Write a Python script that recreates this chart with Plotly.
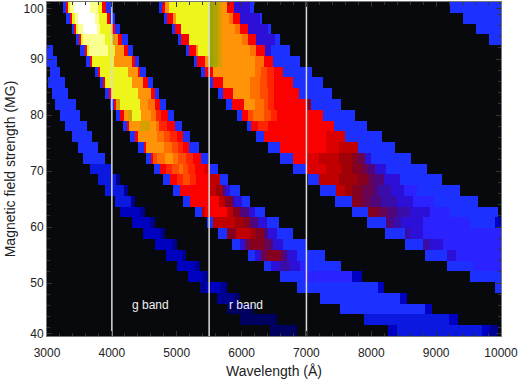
import numpy as np
import plotly.graph_objects as go

# colour levels
k=0; e=8; d=12; D=16; F=20; B=24; V=28; I=32; J=35; P=38; Q=41; M=44; X=46; C=48; E=50; R=52; S=56; N=60; T=64; O=68; U=72; A=76; Y=84; L=92; W=100; G=110; g=115; H=120

wavelength_ticks = [3000,4000,5000,6000,7000,8000,9000,10000]
wavelength_text = ["3000","4000","5000","6000","7000","8000","9000","10000"]
field_tick_text = ["40","50","60","70","80","90","100"]
field_tick_pos = [41,50,60,70,80,90,99]
band_edges = [4000,5500,7000]

# each row: (wavelength where a new level begins, level); top row (100 MG) first
row_100=[(3250,B),(3300,R),(3320,Y),(3350,L),(3420,W),(3660,L),(3790,Y),(3850,R),(3910,B),(3980,k),(4720,B),(4770,R),(4820,O),(4880,Y),(5500,G),(5560,g),(5630,H),(5700,O),(5770,R),(5880,I),(6130,B),(6190,k),(9215,B)]
row_98=[(3300,B),(3355,R),(3380,Y),(3430,L),(3480,W),(3740,L),(3800,Y),(3920,R),(3970,B),(4050,k),(4800,B),(4855,R),(4950,O),(4990,Y),(5500,G),(5560,g),(5630,H),(5700,O),(5800,T),(5870,R),(5980,I),(6280,B),(6310,k),(9410,B)]
row_96=[(3380,B),(3420,R),(3450,Y),(3480,L),(3560,W),(3770,L),(3820,Y),(3995,R),(4050,B),(4130,k),(4920,B),(4975,R),(5060,Y),(5500,G),(5560,g),(5630,H),(5700,O),(5900,T),(5975,R),(6104,I),(6400,B),(6460,k),(9615,B)]
row_94=[(3450,B),(3500,R),(3520,Y),(3560,L),(3890,Y),(3997,H),(4050,O),(4100,R),(4165,B),(4255,k),(5025,B),(5075,R),(5190,Y),(5500,G),(5560,g),(5630,H),(5700,O),(6000,T),(6104,R),(6233,I),(6520,B),(6590,k),(9806,B)]
row_92=[(3000,B),(3090,k),(3510,B),(3590,R),(3610,Y),(3640,L),(3945,Y),(4050,O),(4177,R),(4250,B),(4330,k),(5143,B),(5195,R),(5305,O),(5330,Y),(5500,G),(5560,g),(5630,H),(5700,O),(6130,T),(6233,R),(6361,I),(6450,B),(6740,k)]
row_90=[(3000,B),(3150,k),(3600,B),(3660,R),(3690,Y),(4030,O),(4306,R),(4357,B),(4425,k),(5256,B),(5308,R),(5436,O),(5500,G),(5560,g),(5630,H),(5700,O),(6200,T),(6336,R),(6490,B),(6900,k)]
row_88=[(3050,B),(3200,k),(3740,B),(3790,R),(3817,Y),(4254,O),(4400,R),(4434,B),(4525,k),(5385,B),(5436,R),(5565,O),(6200,T),(6300,N),(6387,S),(6500,R),(6640,B),(7080,k)]
row_86=[(3020,B),(3278,k),(3807,B),(3869,R),(3894,Y),(4306,O),(4485,R),(4547,B),(4630,k),(5523,B),(5565,R),(5708,O),(6130,T),(6284,N),(6387,S),(6500,R),(6788,B),(7260,k)]
row_84=[(3072,B),(3329,k),(3894,B),(3960,R),(3997,Y),(4410,O),(4610,R),(4660,B),(4730,k),(5642,B),(5720,R),(5873,O),(6130,T),(6284,N),(6400,S),(6500,R),(6880,B),(7390,k)]
row_82=[(3123,B),(3447,k),(3971,B),(4040,R),(4070,H),(4126,Y),(4430,O),(4560,T),(4660,R),(4740,B),(4840,k),(5760,B),(5850,R),(6027,O),(6200,T),(6336,N),(6400,S),(6500,R),(7010,M),(7070,B),(7544,k)]
row_80=[(3200,B),(3509,k),(4074,B),(4126,R),(4177,O),(4254,H),(4310,Y),(4450,O),(4600,T),(4680,S),(4760,R),(4860,B),(4960,k),(5928,B),(6010,R),(6100,N),(6180,T),(6336,N),(6450,S),(6550,R),(7261,B),(7750,k)]
row_78=[(3278,B),(3612,k),(4167,B),(4240,R),(4275,O),(4440,H),(4590,O),(4680,T),(4730,S),(4850,R),(4984,B),(5077,k),(6078,B),(6155,R),(6250,S),(6400,R),(7416,B),(7930,k)]
row_76=[(3380,B),(3689,k),(4280,B),(4360,R),(4400,O),(4700,T),(4800,N),(4900,S),(5000,R),(5102,B),(5210,k),(6233,B),(6336,R),(7300,E),(7596,B),(8161,k)]
row_74=[(3483,B),(3792,k),(4408,B),(4490,R),(4530,O),(4800,T),(4925,N),(5020,S),(5100,R),(5190,B),(5345,k),(6413,B),(6590,R),(7300,E),(7500,C),(7800,B),(8366,k)]
row_72=[(3560,B),(3894,k),(4527,B),(4610,R),(4640,N),(4700,T),(4820,O),(4950,T),(5025,N),(5150,S),(5250,R),(5369,B),(5487,k),(6593,B),(6799,R),(7000,E),(7200,C),(7500,X),(7700,M),(7800,Q),(7900,I),(8000,B),(8610,k)]
row_70=[(3663,F),(3997,k),(4650,B),(4742,R),(4845,S),(4920,N),(5030,T),(5100,N),(5180,S),(5280,R),(5420,E),(5520,B),(5645,k),(6799,B),(7000,E),(7300,C),(7550,X),(7700,M),(7850,Q),(7950,P),(8050,I),(8220,B),(8860,k)]
row_68=[(3792,F),(4060,d),(4126,k),(4794,B),(4886,R),(5000,S),(5100,N),(5200,S),(5300,R),(5500,C),(5667,B),(5795,k),(7030,B),(7205,C),(7500,X),(7800,M),(7950,Q),(8030,P),(8200,I),(8443,B),(9086,k)]
row_66=[(3894,F),(4190,d),(4254,k),(4938,B),(5055,R),(5500,C),(5600,X),(5700,Q),(5740,I),(5820,B),(5975,k),(7210,B),(7460,C),(7600,X),(7700,M),(7850,Q),(8030,P),(8100,J),(8300,I),(8500,V),(8700,B),(9369,k)]
row_64=[(4049,F),(4290,d),(4357,k),(5102,B),(5215,R),(5650,C),(5745,M),(5850,P),(5880,I),(6001,B),(6130,k),(7441,B),(7700,M),(7850,Q),(7980,P),(8150,J),(8400,I),(8650,V),(8957,B),(9651,k)]
row_62=[(4126,D),(4440,d),(4511,k),(5282,B),(5390,C),(5430,R),(5780,C),(5873,M),(5980,P),(6120,I),(6207,B),(6361,k),(7698,B),(7950,M),(8100,Q),(8240,P),(8400,J),(8600,I),(8900,V),(9214,B),(9960,k)]
row_60=[(4306,D),(4590,d),(4665,k),(5462,B),(5565,C),(5900,X),(6027,M),(6130,P),(6250,I),(6387,B),(6570,k),(7929,B),(8220,P),(8340,J),(8460,I),(8800,V),(9523,B),(9900,D)]
row_58=[(4485,D),(4740,d),(4820,k),(5642,B),(5770,M),(5925,C),(6150,X),(6233,M),(6336,P),(6400,I),(6540,B),(6798,k),(8212,B),(8520,J),(8600,I),(8800,V)]
row_56=[(4665,D),(4920,d),(4999,k),(5847,B),(5976,I),(6050,Q),(6130,M),(6350,Q),(6438,P),(6490,I),(6644,B),(7005,k),(8520,B),(8803,J),(8900,I),(9100,V)]
row_54=[(4845,D),(5080,d),(5154,k),(6104,B),(6207,I),(6300,Q),(6387,M),(6593,Q),(6640,P),(6700,I),(6850,B),(7280,k),(8829,B),(9163,I),(9300,V)]
row_52=[(5000,D),(5280,d),(5359,k),(6336,B),(6464,I),(6600,J),(6750,I),(6900,V),(7000,B),(7530,k),(9163,B),(9574,V)]
row_50=[(5179,D),(5400,d),(5488,k),(6593,B),(6960,V),(7700,D),(7850,k),(9523,B)]
row_48=[(5359,d),(5450,D),(5680,d),(5770,k),(6850,B),(8100,D),(8187,k),(9910,B)]
row_46=[(5616,d),(5900,e),(5976,k),(7210,B),(8450,D),(8547,k)]
row_44=[(5770,e),(6180,k),(7519,B),(8830,D),(8932,k)]
row_42=[(5976,e),(6542,k),(7878,F),(9200,D),(9343,k)]
row_40=[(6439,e),(6850,k),(8264,D),(8400,F),(9700,D),(9832,d),(9950,k)]

rows_top_down=[row_100,row_98,row_96,row_94,row_92,row_90,row_88,row_86,row_84,row_82,row_80,row_78,row_76,row_74,row_72,row_70,row_68,row_66,row_64,row_62,row_60,row_58,row_56,row_54,row_52,row_50,row_48,row_46,row_44,row_42,row_40]

x_bins=np.arange(3005,10000,10)
def expand(row):
    z=np.zeros(len(x_bins))
    for start,level in row:
        z[x_bins>=start]=level
    return z
z=np.array([expand(r) for r in rows_top_down[::-1]])

zmax=120
stops=[(0,"#08090c"),(8,"#000060"),(12,"#000090"),(16,"#0000c0"),(20,"#0a18e0"),(24,"#1c30ff"),(28,"#2a22ff"),(32,"#2c10d8"),(35,"#3a0ca8"),(38,"#50067a"),(41,"#6a0450"),(44,"#860020"),(46,"#a00008"),(48,"#c00000"),(50,"#dc0000"),(52,"#fa0000"),(56,"#ff2500"),(60,"#ff4a00"),(64,"#ff7000"),(68,"#ff9408"),(72,"#ffad0c"),(76,"#ffc810"),(84,"#eef51a"),(92,"#fbff90"),(100,"#ffffff"),(110,"#94a604"),(115,"#b0a202"),(120,"#d6a000")]
colorscale=[[v/zmax,c] for v,c in stops]

y_bottom,y_top=40.54,100.18
dy=(y_top-y_bottom)/31

fig=go.Figure()
fig.add_trace(go.Heatmap(z=z,x=x_bins,y0=y_bottom+dy/2,dy=dy,zmin=0,zmax=zmax,colorscale=colorscale,showscale=False,hoverinfo="skip"))
for w in band_edges:
    fig.add_trace(go.Scatter(x=[w,w],y=[y_bottom,y_top],mode="lines",line=dict(color="#dcdcdc",width=1.5),hoverinfo="skip",showlegend=False))

font=dict(family="Liberation Sans, Arial, sans-serif",size=12,color="#222222")
fig.update_layout(width=520,height=379,margin=dict(l=47,r=19,t=2,b=43,pad=0),paper_bgcolor="white",plot_bgcolor="#08090c",font=font,showlegend=False,
    annotations=[dict(x=4600,y=46.1,text="g band",showarrow=False,font=dict(color="#f0f0f0",size=12,family=font["family"])),
                 dict(x=6070,y=46.1,text="r band",showarrow=False,font=dict(color="#f0f0f0",size=12,family=font["family"]))])
fig.update_xaxes(automargin=False,range=[3000,10000],tickvals=wavelength_ticks,ticktext=wavelength_text,ticks="inside",ticklen=5,tickcolor="#333",tickwidth=1,mirror="ticks",showline=True,linecolor="#777",linewidth=1,showgrid=False,zeroline=False,
    minor=dict(dtick=200,ticks="inside",ticklen=3,tickcolor="#333"),title=dict(text="Wavelength (Å)",standoff=7),tickfont=font,ticklabelstandoff=6)
fig.update_yaxes(automargin=False,range=[y_bottom,y_top],tickvals=field_tick_pos,ticktext=field_tick_text,ticks="inside",ticklen=5,tickcolor="#333",tickwidth=1,mirror="ticks",showline=True,linecolor="#777",linewidth=1,showgrid=False,zeroline=False,
    minor=dict(dtick=2,ticks="inside",ticklen=3,tickcolor="#333"),title=dict(text="Magnetic field strength (MG)",standoff=4),tickfont=font)
fig.write_html("out.html",config={"displayModeBar":False},post_script="document.body.style.margin='0';document.body.style.overflow='hidden';")
